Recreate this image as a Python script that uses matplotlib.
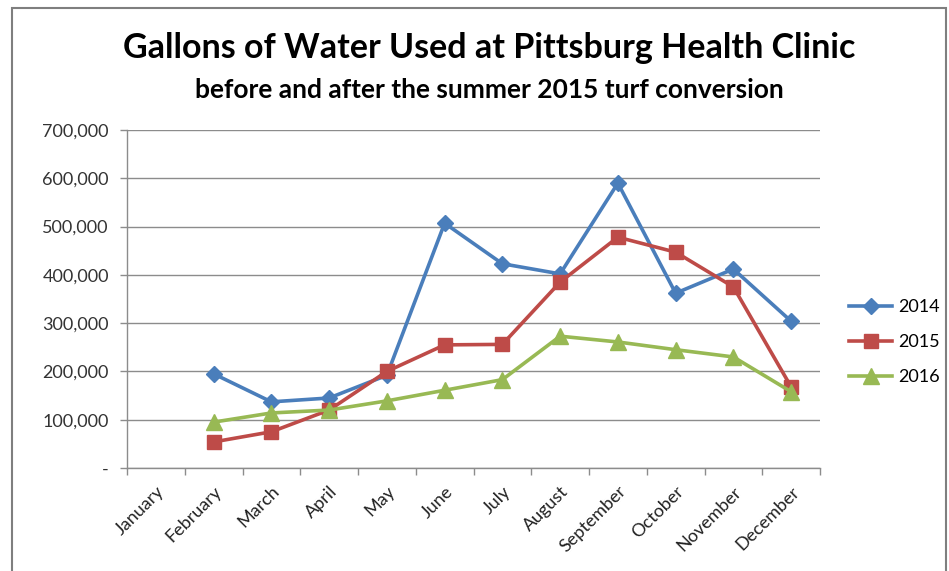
import numpy as np
import matplotlib
matplotlib.use("Agg")
import matplotlib.pyplot as plt
from matplotlib.patches import Rectangle

months = ["January", "February", "March", "April", "May", "June", "July",
          "August", "September", "October", "November", "December"]
nan = np.nan
s2014 = [nan, 195000, 137000, 145000, 192000, 507000, 423000, 402000, 590000, 362000, 412000, 304000]
s2015 = [nan, 54000, 75000, 120000, 200000, 255000, 256000, 385000, 478000, 447000, 375000, 168000]
s2016 = [nan, 95000, 114000, 120000, 139000, 161000, 183000, 273000, 261000, 245000, 230000, 158000]
yticks = [0, 100000, 200000, 300000, 400000, 500000, 600000, 700000]
ylabels = ["-", "100,000", "200,000", "300,000", "400,000", "500,000", "600,000", "700,000"]

plt.rcParams['font.family'] = ['Lato', 'DejaVu Sans']

fig = plt.figure(figsize=(9.49, 5.71), dpi=100)
fig.patch.set_facecolor("white")
# chart border
fig.add_artist(Rectangle((12/949, -0.05), (946-12)/949, 1.05 - 8/571, transform=fig.transFigure,
                         fill=False, edgecolor="#7f7f7f", linewidth=1.5))

ax = fig.add_axes([127/949, 1-468/571, (820-127)/949, (468-130)/571])
x = np.arange(len(months))
ax.plot(x, s2014, color="#4A7EBB", lw=2.6, marker="D", ms=8, label="2014")
ax.plot(x, s2015, color="#BE4B48", lw=2.6, marker="s", ms=10, label="2015")
ax.plot(x, s2016, color="#98B954", lw=2.6, marker="^", ms=11, label="2016")

ax.set_xlim(-0.5, 11.5)
ax.set_ylim(0, 700000)
ax.set_yticks(yticks)
ax.set_yticklabels(ylabels, fontsize=13, color="#333333")
ax.yaxis.grid(True, color="#8c8c8c", lw=1)
ax.set_axisbelow(True)
ax.set_xticks(x)
ax.set_xticklabels(months, rotation=45, ha="right", va="top", fontsize=13, color="#222222",
                   rotation_mode="anchor")
ax.tick_params(axis="x", length=0, pad=11)
ax.set_xticks(np.arange(-0.5, 12, 1), minor=True)
ax.tick_params(axis="x", which="minor", length=5, color="#8c8c8c", width=1)
ax.tick_params(axis="y", length=5, color="#8c8c8c", width=1, pad=8)
for s in ["top", "right"]:
    ax.spines[s].set_visible(False)
for s in ["left", "bottom"]:
    ax.spines[s].set_color("#8c8c8c")
    ax.spines[s].set_linewidth(1)

ax.legend(loc="center left", bbox_to_anchor=(849/949, 1-342/571), bbox_transform=fig.transFigure,
          frameon=False, fontsize=13, handlelength=2.4, handletextpad=0.35,
          labelspacing=1.05, borderaxespad=0, borderpad=0)

fig.text(489/949, 1-48/571, "Gallons of Water Used at Pittsburg Health Clinic", ha="center", va="center",
         fontsize=24.5, fontweight="bold", color="black")
fig.text(489/949, 1-90/571, "before and after the summer 2015 turf conversion", ha="center", va="center",
         fontsize=19, fontweight="bold", color="black")

fig.savefig("out.png", dpi=100)
